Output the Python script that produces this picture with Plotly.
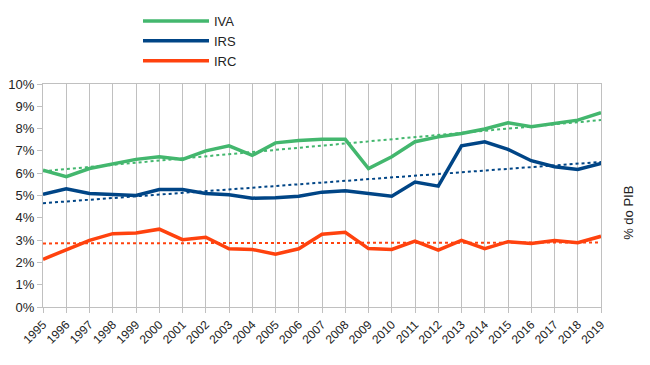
import numpy as np
import plotly.graph_objects as go

years = list(range(1995, 2020))
iva = [6.14, 5.84, 6.21, 6.41, 6.62, 6.74, 6.62, 7.0, 7.23, 6.8, 7.36, 7.47, 7.52,
       7.52, 6.21, 6.74, 7.41, 7.63, 7.78, 7.98, 8.26, 8.08, 8.23, 8.38, 8.71]
irs = [5.05, 5.30, 5.09, 5.03, 5.0, 5.27, 5.27, 5.09, 5.03, 4.88, 4.9, 4.97, 5.15,
       5.21, 5.09, 4.97, 5.6, 5.42, 7.23, 7.41, 7.07, 6.56, 6.29, 6.17, 6.44]
irc = [2.14, 2.55, 2.99, 3.29, 3.32, 3.49, 3.02, 3.13, 2.61, 2.58, 2.37, 2.61, 3.26,
       3.35, 2.62, 2.58, 2.95, 2.55, 2.99, 2.62, 2.93, 2.85, 2.98, 2.88, 3.17]

series = [("IVA", iva, "#43b76e"), ("IRS", irs, "#004586"), ("IRC", irc, "#ff420e")]

fig = go.Figure()
x = np.array(years, dtype=float)
for name, vals, col in series:
    fig.add_trace(go.Scatter(x=years, y=vals, mode="lines", name=name,
                             line=dict(color=col, width=3.5)))
for name, vals, col in series:
    a, b = np.polyfit(x, np.array(vals), 1)
    fig.add_trace(go.Scatter(x=years, y=list(a * x + b), mode="lines", showlegend=False,
                             line=dict(color=col, width=2, dash="dot"), hoverinfo="skip"))

# page body adds an 8px offset
L, R, T, B = 35, 57, 76, 66
pw = 650 - L - R

fig.update_layout(
    width=650, height=365,
    margin=dict(l=L, r=R, t=T, b=B, autoexpand=False),
    paper_bgcolor="white", plot_bgcolor="white",
    font=dict(family="Liberation Sans, Arial, sans-serif", color="#222", size=13),
    legend=dict(x=(130 - L) / pw, y=1.35, xanchor="left", yanchor="top",
                itemwidth=66,
                font=dict(size=13), tracegroupgap=0, bgcolor="rgba(0,0,0,0)"),
    xaxis=dict(range=[1995, 2019], tickmode="array", tickvals=years,
               ticktext=[str(y) for y in years], tickangle=-45,
               tickfont=dict(size=12), showgrid=True, gridcolor="#c0c0c0",
               gridwidth=1, showline=True, linecolor="#c0c0c0", mirror=True,
               ticks="outside", ticklen=5, tickcolor="#c0c0c0", zeroline=False),
    yaxis=dict(range=[0, 10], dtick=1, ticksuffix="%", showgrid=False,
               showline=True, linecolor="#c0c0c0", mirror=True,
               ticks="outside", ticklen=5, tickcolor="#c0c0c0", zeroline=False,
               tickfont=dict(size=13)),
    annotations=[dict(text="% do PIB", x=(630 - L) / pw, y=0.42, xref="paper", yref="paper",
                      showarrow=False, textangle=-90, font=dict(size=13))],
)
fig.write_html("out.html")
